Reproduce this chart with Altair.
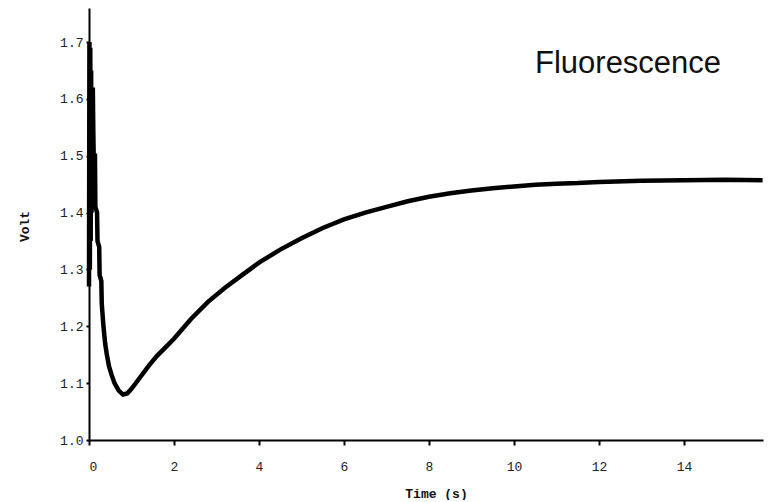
import altair as alt
import pandas as pd

time_s = [0.00, 0.01, 0.02, 0.03, 0.04, 0.05, 0.06, 0.07, 0.08, 0.09, 0.10, 0.11,
          0.14, 0.15, 0.19, 0.20, 0.24, 0.25, 0.29, 0.30, 0.34, 0.38, 0.42, 0.47,
          0.53, 0.60, 0.70, 0.80, 0.90, 1.00, 1.20, 1.40, 1.60, 1.80, 2.00, 2.40,
          2.80, 3.20, 3.60, 4.00, 4.50, 5.00, 5.50, 6.00, 6.50, 7.00, 7.50, 8.00,
          8.50, 9.00, 9.50, 10.0, 10.5, 11.0, 11.5, 12.0, 13.0, 14.0, 15.0, 15.85]
volt = [1.27, 1.70, 1.30, 1.69, 1.35, 1.65, 1.40, 1.62, 1.45, 1.62, 1.55, 1.50,
        1.50, 1.41, 1.40, 1.35, 1.34, 1.29, 1.28, 1.24, 1.20, 1.17, 1.15, 1.13,
        1.115, 1.10, 1.087, 1.080, 1.082, 1.090, 1.110, 1.130, 1.148, 1.163, 1.178, 1.213,
        1.243, 1.268, 1.290, 1.312, 1.335, 1.355, 1.373, 1.388, 1.400, 1.410, 1.420, 1.428,
        1.434, 1.439, 1.443, 1.446, 1.449, 1.451, 1.452, 1.454, 1.456, 1.457, 1.458, 1.457]

df = pd.DataFrame({"t": time_s, "v": volt})

label_txt = ["Fluorescence"]

mono = "Liberation Mono"

line = alt.Chart(df).mark_line(color="black", strokeWidth=4.5, interpolate="linear").encode(
    x=alt.X("t:Q", title="Time (s)",
            scale=alt.Scale(domain=[0, 15.86], nice=False, zero=False),
            axis=alt.Axis(values=[0, 2, 4, 6, 8, 10, 12, 14], format="d",
                          tickSize=5, labelPadding=15, titlePadding=14,
                          titleX=347)),
    y=alt.Y("v:Q", title="Volt",
            scale=alt.Scale(domain=[1.0, 1.76], nice=False, zero=False),
            axis=alt.Axis(values=[1.0, 1.1, 1.2, 1.3, 1.4, 1.5, 1.6, 1.7], format=".1f",
                          tickSize=3, labelPadding=3,
                          titleX=-58, titleY=218)),
)

txt = alt.Chart(pd.DataFrame({"label": label_txt})).mark_text(
    font="Liberation Sans", fontSize=31, align="left", baseline="alphabetic", color="#111"
).encode(
    x=alt.value(446), y=alt.value(65), text="label:N"
)

chart = alt.layer(line, txt).properties(
    width=674, height=432,
    autosize=alt.AutoSizeParams(type="none"),
    padding={"left": 81, "top": 0, "right": 2, "bottom": 60},
).configure_view(stroke=None).configure_axis(
    grid=False, domainColor="black", domainWidth=2, tickColor="black", tickWidth=2,
    labelFont=mono, labelFontSize=13, labelColor="#222",
    titleFont=mono, titleFontSize=13, titleColor="#111", titleFontWeight="bold",
)

chart.save("out.html", embed_options={"renderer": "svg", "actions": False})
